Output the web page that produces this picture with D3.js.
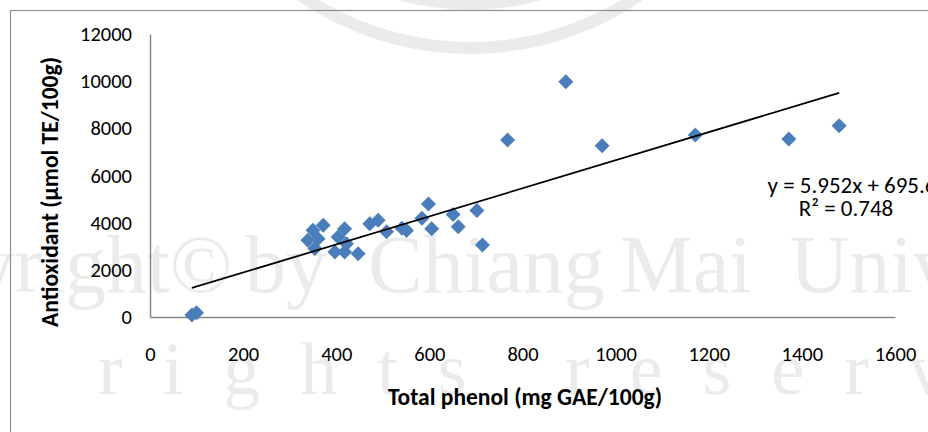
<!DOCTYPE html>
<html>
<head>
<meta charset="utf-8">
<script src="https://cdn.jsdelivr.net/npm/d3@7"></script>
<style>
  html, body { margin: 0; padding: 0; background: #fff; }
  svg { display: block; }
</style>
</head>
<body>
<svg id="chart" width="928" height="432"></svg>
<script>
// Total phenol content (mg GAE/100g) and antioxidant capacity (µmol TE/100g) per sample
const phenol = [90, 100, 339, 350, 354, 361, 372, 397, 404, 418, 422, 418, 447, 472, 490,
                508, 541, 551, 584, 598, 605, 651, 662, 702, 714, 768, 893, 971, 1171, 1372, 1480];
const antioxidant = [85, 180, 3250, 3680, 2900, 3320, 3890, 2760, 3390, 3745, 3110, 2760, 2685, 3955, 4100,
                     3617, 3761, 3668, 4185, 4792, 3740, 4346, 3829, 4516, 3053, 7505, 9977, 7264, 7717, 7548, 8112];

// Linear trend fitted to the samples
const slope = 5.952;
const intercept = 695.6;
const r2 = 0.748;

const xTicks = [0, 200, 400, 600, 800, 1000, 1200, 1400, 1600];
const yTicks = [0, 2000, 4000, 6000, 8000, 10000, 12000];

const xTitle = "Total phenol (mg GAE/100g)";
const yTitle = "Antioxidant (µmol TE/100g)";

const font = "Carlito, 'Liberation Sans Narrow', 'Liberation Sans', sans-serif";

const svg = d3.select("#chart");

// Faint background watermark
const wm = svg.append("g").attr("fill", "#ebebeb").attr("font-family", "'Liberation Serif', serif");
wm.append("path")
  .attr("d", d3.arc()({innerRadius: 292, outerRadius: 304, startAngle: 2.15, endAngle: 4.15}))
  .attr("transform", "translate(470,-250)");
wm.append("path")
  .attr("d", d3.arc()({innerRadius: 250, outerRadius: 260, startAngle: 2.1, endAngle: 4.2}))
  .attr("transform", "translate(470,-250)");
[["Copyright©", 232, "end"], ["by", 245, "start"], ["Chiang", 368, "start"], ["Mai", 620, "start"], ["University", 790, "start"]]
  .forEach(([t, xx, a]) => wm.append("text").attr("x", xx).attr("y", 292).attr("font-size", 82)
    .attr("text-anchor", a).text(t));
wm.append("text").attr("x", -175).attr("y", 394).attr("font-size", 74)
  .attr("letter-spacing", 40).text("All rights reserved");

// Chart area frame
svg.append("rect")
  .attr("x", 10.5).attr("y", 10.5).attr("width", 940).attr("height", 440)
  .attr("fill", "none").attr("stroke", "#8f8f8f").attr("stroke-width", 1.2);

const x = d3.scaleLinear().domain([0, 1600]).range([150, 895]);
const y = d3.scaleLinear().domain([0, 12000]).range([317, 34]);

// Y axis
const gy = svg.append("g").attr("transform", "translate(150,0)")
  .call(d3.axisLeft(y).tickValues(yTicks).tickSize(0).tickPadding(18).tickFormat(d3.format("d")));
gy.select(".domain").attr("stroke", "#868686").attr("stroke-width", 1.5);
gy.selectAll("text").attr("font-family", font).attr("font-size", 20.5).attr("fill", "#000");

// X axis
const gx = svg.append("g").attr("transform", "translate(0,317)")
  .call(d3.axisBottom(x).tickValues(xTicks).tickSize(0).tickPadding(29).tickFormat(d3.format("d")));
gx.select(".domain").attr("stroke", "#868686").attr("stroke-width", 1.5);
gx.selectAll("text").attr("font-family", font).attr("font-size", 20.5).attr("fill", "#000");

// Data points
const pts = phenol.map((p, i) => ({p, a: antioxidant[i]}));
svg.append("g").selectAll("path").data(pts).join("path")
  .attr("d", d3.symbol(d3.symbolSquare, 112))
  .attr("transform", d => `translate(${x(d.p)},${y(d.a)}) rotate(45)`)
  .attr("fill", "#4a7ebb");

// Trend line over the sampled range
const [x0, x1] = d3.extent(phenol);
svg.append("line")
  .attr("x1", x(x0)).attr("y1", y(slope * x0 + intercept))
  .attr("x2", x(x1)).attr("y2", y(slope * x1 + intercept))
  .attr("stroke", "#000").attr("stroke-width", 1.75);

// Trend equation
const eq = svg.append("g").attr("font-family", font).attr("font-size", 23)
  .attr("text-anchor", "middle").attr("fill", "#000");
eq.append("text").attr("x", 852).attr("y", 193)
  .text(`y = ${slope}x + ${intercept}`);
eq.append("text").attr("x", 846).attr("y", 216)
  .text(`R² = ${r2}`);

// Axis titles
svg.append("text")
  .attr("x", 525).attr("y", 405).attr("text-anchor", "middle")
  .attr("font-family", font).attr("font-weight", "bold").attr("font-size", 23.5)
  .text(xTitle);
svg.append("text")
  .attr("transform", "translate(58,192) rotate(-90)").attr("text-anchor", "middle")
  .attr("font-family", font).attr("font-weight", "bold").attr("font-size", 23.5)
  .text(yTitle);
</script>
</body>
</html>
